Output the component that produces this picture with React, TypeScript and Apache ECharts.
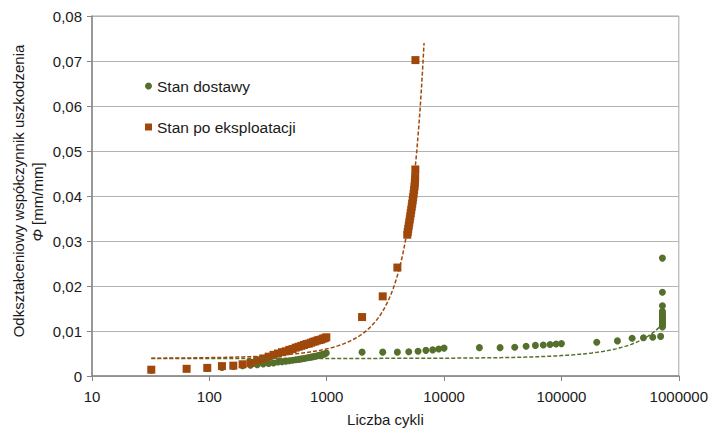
import React, { useEffect, useRef } from "react";
import * as echarts from "echarts";

// Stan dostawy (green circles)
const deliveryCycles = [
  32, 64, 96, 128, 160, 192, 224, 256, 288, 320, 352, 384, 416, 448, 480, 512, 544, 576, 608, 640,
  672, 704, 736, 768, 800, 832, 864, 896, 928, 960, 992,
  2000, 3000, 4000, 5000, 6000, 7000, 8000, 9000, 10000,
  20000, 30000, 40000, 50000, 60000, 70000, 80000, 90000, 100000,
  200000, 300000, 400000, 500000, 600000, 700000,
  725000, 725000, 725000, 725000, 725000, 725000, 725000, 725000, 725000, 725000, 725000, 725000,
  725000, 725000, 725000,
];
const deliveryPhi = [
  0.0013, 0.0016, 0.0017, 0.0019, 0.0021, 0.0023, 0.0024, 0.0025, 0.0027, 0.0028, 0.0029, 0.0031,
  0.0032, 0.0033, 0.0034, 0.0035, 0.0036, 0.0037, 0.0038, 0.0039, 0.004, 0.0041, 0.0042, 0.0043,
  0.0044, 0.0045, 0.0046, 0.0047, 0.0048, 0.0049, 0.0051,
  0.0053, 0.0053, 0.0053, 0.0054, 0.0055, 0.0057, 0.0058, 0.006, 0.0062,
  0.0063, 0.0063, 0.0064, 0.0066, 0.0068, 0.0069, 0.007, 0.0071, 0.0072,
  0.0075, 0.0078, 0.0084, 0.0085, 0.0086, 0.0088,
  0.0109, 0.0112, 0.0115, 0.0118, 0.0121, 0.0124, 0.0127, 0.013, 0.0133, 0.0136, 0.014, 0.0144,
  0.0156, 0.0186, 0.0262,
];

// Stan po eksploatacji (orange squares)
const serviceCycles = [
  32, 64, 96, 128, 160, 192, 224, 256, 288, 320, 352, 384, 416, 448, 480, 512, 544, 576, 608, 640,
  672, 704, 736, 768, 800, 832, 864, 896, 928, 960, 992,
  2000, 3000, 4000,
  4860, 4900, 4950, 5000, 5050, 5100, 5150, 5200, 5250, 5300, 5350, 5400, 5450, 5500, 5550, 5600,
  5630, 5650, 5670, 5690, 5700,
];
const servicePhi = [
  0.0014, 0.0016, 0.0018, 0.0022, 0.0023, 0.0026, 0.0029, 0.0035, 0.0039, 0.0043, 0.0047, 0.005,
  0.0053, 0.0055, 0.0058, 0.006, 0.0063, 0.0065, 0.0067, 0.0069, 0.0071, 0.0072, 0.0074, 0.0076,
  0.0077, 0.0079, 0.008, 0.0081, 0.0083, 0.0084, 0.0086,
  0.0131, 0.0177, 0.0241,
  0.0314, 0.032, 0.0327, 0.0334, 0.0341, 0.0348, 0.0355, 0.0362, 0.0369, 0.0376, 0.0383, 0.039,
  0.0397, 0.0405, 0.0413, 0.0421, 0.0428, 0.0435, 0.0442, 0.0459, 0.0702,
];

// Exponential trendlines y = a * exp(b * x)
const deliveryTrend = { a: 0.0039, b: 1.5e-6, from: 32, to: 716000 };
const serviceTrend = { a: 0.0039, b: 4.36e-4, from: 32, to: 6750 };

const yTicks = [0, 0.01, 0.02, 0.03, 0.04, 0.05, 0.06, 0.07, 0.08];
const xTickLabels = ["10", "100", "1000", "10000", "100000", "1000000"];

const GREEN = "#55702c";
const ORANGE = "#a0480b";
const FONT = "'Liberation Sans', Arial, sans-serif";

function trendPoints(t: { a: number; b: number; from: number; to: number }) {
  const pts: number[][] = [];
  const n = 300;
  const l0 = Math.log10(t.from);
  const l1 = Math.log10(t.to);
  for (let i = 0; i <= n; i++) {
    const x = Math.pow(10, l0 + ((l1 - l0) * i) / n);
    pts.push([x, t.a * Math.exp(t.b * x)]);
  }
  return pts;
}

export default function App() {
  const ref = useRef<HTMLDivElement>(null);
  useEffect(() => {
    if (!ref.current) return;
    const chart = echarts.init(ref.current, null, { renderer: "svg" });
    const labelFont = { fontFamily: FONT, fontSize: 15, color: "#1a1a1a" };
    chart.setOption({
      animation: false,
      backgroundColor: "#fff",
      textStyle: { fontFamily: FONT },
      grid: {
        left: 92,
        right: 31,
        top: 16,
        bottom: 50,
        show: true,
        borderColor: "#a6a6a6",
        borderWidth: 1,
      },
      legend: {
        left: 145,
        top: 78,
        padding: 0,
        orient: "vertical",
        itemGap: 25,
        itemWidth: 7,
        itemHeight: 7,
        itemStyle: { borderWidth: 0, opacity: 1 },
        textStyle: { ...labelFont, fontSize: 15.5, lineHeight: 15, padding: [0, 0, 0, 0] },
        data: [
          { name: "Stan dostawy", icon: "circle" },
          { name: "Stan po eksploatacji", icon: "rect" },
        ],
      },
      xAxis: {
        type: "log",
        logBase: 10,
        min: 10,
        max: 1000000,
        name: "Liczba cykli",
        nameLocation: "middle",
        nameGap: 36,
        nameTextStyle: labelFont,
        axisLine: { show: true, lineStyle: { color: "#868686", width: 1.5 } },
        axisTick: { show: true, length: 5, lineStyle: { color: "#868686" } },
        minorTick: { show: false },
        splitLine: { show: false },
        axisLabel: {
          ...labelFont,
          margin: 13,
          formatter: (v: number) => {
            const idx = Math.round(Math.log10(v)) - 1;
            return xTickLabels[idx] ?? String(Math.round(v));
          },
        },
      },
      yAxis: {
        type: "value",
        min: 0,
        max: 0.08,
        interval: 0.01,
        axisLine: { show: true, lineStyle: { color: "#868686", width: 1.5 } },
        axisTick: { show: true, length: 5, lineStyle: { color: "#868686" } },
        splitLine: { show: true, lineStyle: { color: "#b3b3b3", width: 1 } },
        axisLabel: {
          ...labelFont,
          margin: 10,
          formatter: (v: number) => {
            const t = yTicks.find((y) => Math.abs(y - v) < 1e-9) ?? v;
            return t === 0 ? "0" : t.toFixed(2).replace(".", ",");
          },
        },
      },
      graphic: [
        {
          type: "text",
          x: 18,
          y: 191,
          rotation: Math.PI / 2,
          style: {
            text: "Odkształceniowy współczynnik uszkodzenia",
            font: `15px ${FONT}`,
            fill: "#1a1a1a",
            align: "center",
            verticalAlign: "middle",
          },
        },
        {
          type: "text",
          x: 37,
          y: 202,
          rotation: Math.PI / 2,
          style: {
            text: "{i|Φ} [mm/mm]",
            font: `15px ${FONT}`,
            fill: "#1a1a1a",
            align: "center",
            verticalAlign: "middle",
            rich: {
              i: { fontStyle: "italic", fontFamily: FONT, fontSize: 15, fill: "#1a1a1a" },
            },
          },
        },
      ],
      series: [
        {
          name: "Stan dostawy",
          type: "scatter",
          symbol: "circle",
          symbolSize: 7,
          itemStyle: { color: GREEN, opacity: 1 },
          data: deliveryCycles.map((c, i) => [c, deliveryPhi[i]]),
          z: 2,
        },
        {
          name: "Stan po eksploatacji",
          type: "scatter",
          symbol: "rect",
          symbolSize: 8,
          itemStyle: { color: ORANGE, opacity: 1 },
          data: serviceCycles.map((c, i) => [c, servicePhi[i]]),
          z: 3,
        },
        {
          name: "trend dostawy",
          type: "line",
          showSymbol: false,
          symbol: "none",
          silent: true,
          lineStyle: { color: GREEN, width: 1.5, type: [4, 2] },
          data: trendPoints(deliveryTrend),
          z: 4,
        },
        {
          name: "trend eksploatacji",
          type: "line",
          showSymbol: false,
          symbol: "none",
          silent: true,
          lineStyle: { color: ORANGE, width: 1.5, type: [4, 2] },
          data: trendPoints(serviceTrend),
          z: 4,
        },
      ],
    });
    return () => chart.dispose();
  }, []);
  return (
    <div
      ref={ref}
      style={{ position: "fixed", left: 0, top: 0, width: 711, height: 432, background: "#fff" }}
    />
  );
}
